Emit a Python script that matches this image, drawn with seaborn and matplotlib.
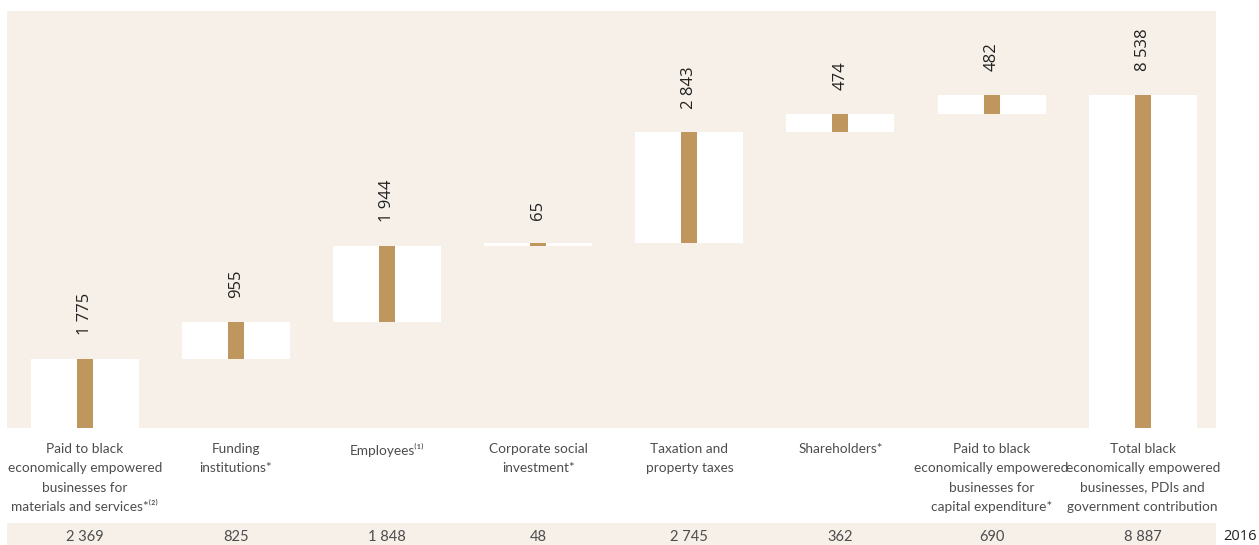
import numpy as np
import pandas as pd
import matplotlib
matplotlib.use("Agg")
import matplotlib.pyplot as plt
import seaborn as sns
from matplotlib.patches import Rectangle

categories = [
    "Paid to black\neconomically empowered\nbusinesses for\nmaterials and services*⁽²⁾",
    "Funding\ninstitutions*",
    "Employees⁽¹⁾",
    "Corporate social\ninvestment*",
    "Taxation and\nproperty taxes",
    "Shareholders*",
    "Paid to black\neconomically empowered\nbusinesses for\ncapital expenditure*",
    "Total black\neconomically empowered\nbusinesses, PDIs and\ngovernment contribution",
]
values_2017 = [1775, 955, 1944, 65, 2843, 474, 482, 8538]
values_2016 = [2369, 825, 1848, 48, 2745, 362, 690, 8887]
is_total = [False, False, False, False, False, False, False, True]

# waterfall bases
bases = []
run = 0
for v, t in zip(values_2017, is_total):
    if t:
        bases.append(0)
    else:
        bases.append(run)
        run += v

df = pd.DataFrame({"cat": [str(i) for i in range(len(categories))],
                   "value": values_2017, "base": bases})

def fmt(v):
    return f"{v:,}".replace(",", " ")

sns.set_theme(style="white")
plt.rcParams["font.family"] = ["Open Sans", "DejaVu Sans"]

BG = "#F6F0E9"
TAN = "#BE965E"

fig = plt.figure(figsize=(12.59, 5.45), dpi=100)
W, H = 1259, 545
ax = fig.add_axes([7 / W, (H - 428) / H, (1216 - 7) / W, (428 - 11) / H])
ax.set_facecolor(BG)
ax.set_zorder(2)

sns.barplot(data=df, x="cat", y="value", bottom=df["base"].values, color="white",
            width=0.715, saturation=1, ax=ax, linewidth=0, zorder=2)
sns.barplot(data=df, x="cat", y="value", bottom=df["base"].values, color=TAN,
            width=0.106, saturation=1, ax=ax, linewidth=0, zorder=3)

ax.set_xlim(-0.515, len(categories) - 0.515)
ax.set_ylim(0, 10690)
for s in ax.spines.values():
    s.set_visible(False)
ax.set_xticks([])
ax.set_yticks([])
ax.set_xlabel("")
ax.set_ylabel("")

for i, (v, b) in enumerate(zip(values_2017, bases)):
    ax.annotate(fmt(v), xy=(i, b + v), xytext=(0, 17), textcoords="offset points",
                rotation=90, ha="center", va="bottom", fontsize=12, color="#222222")

# category labels
LABEL_FONT = ["Lato", "DejaVu Sans"]
for i, c in enumerate(categories):
    ax.text(i, -0.035, c, transform=ax.get_xaxis_transform(), ha="center", va="top",
            fontsize=9.8, color="#4d4d4d", linespacing=1.75, family=LABEL_FONT)

# 2016 band
band = Rectangle((7 / W, 0), (1216 - 7) / W, (545 - 523) / H,
                 transform=fig.transFigure, facecolor=BG, edgecolor="none", zorder=-5)
fig.patches.append(band)
for i, v in enumerate(values_2016):
    ax.text(i, -0.262, fmt(v), transform=ax.get_xaxis_transform(), ha="center", va="center",
            fontsize=10.5, color="#4d4d4d", zorder=10, family=LABEL_FONT)
fig.text(1240 / W, (545 - 537) / H, "2016", ha="center", va="center", fontsize=10.5,
         color="#222222")

fig.savefig("out.png", dpi=100, facecolor="white")
